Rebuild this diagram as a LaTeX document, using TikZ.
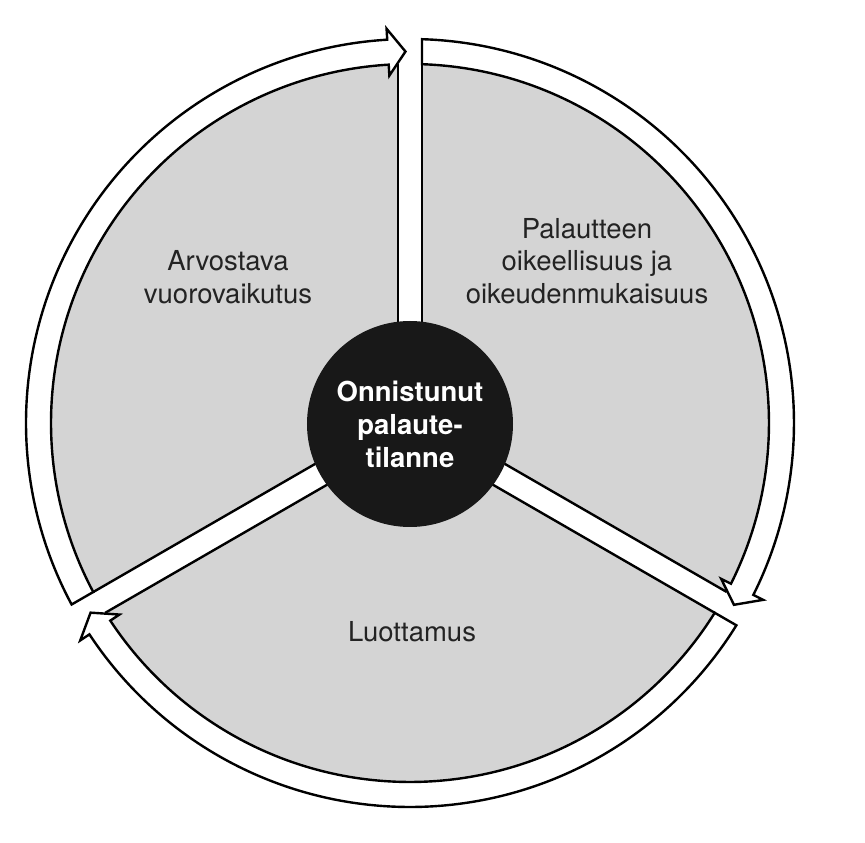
\documentclass[tikz,border=0pt]{standalone}
\usepackage{fontspec}
\setmainfont{TeX Gyre Heros}
\usetikzlibrary{calc}
\definecolor{sectorgray}{RGB}{212,212,212}
\definecolor{hubblack}{RGB}{24,24,24}
\definecolor{labeltext}{RGB}{35,35,35}
\begin{document}
\begin{tikzpicture}[x=1pt,y=1pt,
  outline/.style={draw=black, line width=2.4pt},
  arrowband/.style={outline, fill=white, line join=miter, miter limit=10},
  baredge/.style={draw=black, line width=2.4pt},
  sectortext/.style={text=labeltext, align=center, inner sep=0pt, font=\fontsize{27.5}{32.5}\selectfont},
  hubtext/.style={text=white, align=center, inner sep=0pt, font=\bfseries\fontsize{27.5}{33}\selectfont}]
\useasboundingbox (-410,-420) rectangle (455,423);
\coordinate (O) at (0,0);
% gray disc
\fill[sectorgray] (O) circle[radius=359pt];
% white bars and their edges
\foreach \a in {90,210,330} {
  \fill[white] ($(\a:0pt)+({\a+90}:12pt)$) -- ($(\a:360pt)+({\a+90}:12pt)$)
     -- ($(\a:360pt)+({\a-90}:12pt)$) -- ($(\a:0pt)+({\a-90}:12pt)$) -- cycle;
  \draw[baredge] ($(\a:80pt)+({\a+90}:12pt)$) -- ($(\a:358.8pt)+({\a+90}:12pt)$);
  \draw[baredge] ($(\a:80pt)+({\a-90}:12pt)$) -- ($(\a:358.8pt)+({\a-90}:12pt)$);
}
% curved arrows
\foreach \a in {210,90,-30} {
  \draw[arrowband] ($(\a:383.8pt)+({\a-90}:12pt)$)
    arc[start angle={\a-asin(12/384)}, end angle={\a-120+3.4}, radius=384pt]
    -- ({\a-120+3.4}:395pt) -- ({\a-120+0.7}:371.5pt) -- ({\a-120+3.4}:348pt)
    -- ({\a-120+3.4}:359pt)
    arc[start angle={\a-120+3.4}, end angle={\a-asin(12/359)}, radius=359pt]
    -- cycle;
}
% hub
\node[circle, fill=hubblack, minimum size=206pt, hubtext] (hub) at (0,-1) {Onnistunut\\palaute-\\tilanne};
% sector labels
\node[sectortext] (arv) at (-182,146) {Arvostava\\vuorovaikutus};
\node[sectortext] (pal) at (177,162) {Palautteen\\oikeellisuus ja\\oikeudenmukaisuus};
\node[sectortext, anchor=base] (luo) at (2,-218) {Luottamus};
\end{tikzpicture}
\end{document}
